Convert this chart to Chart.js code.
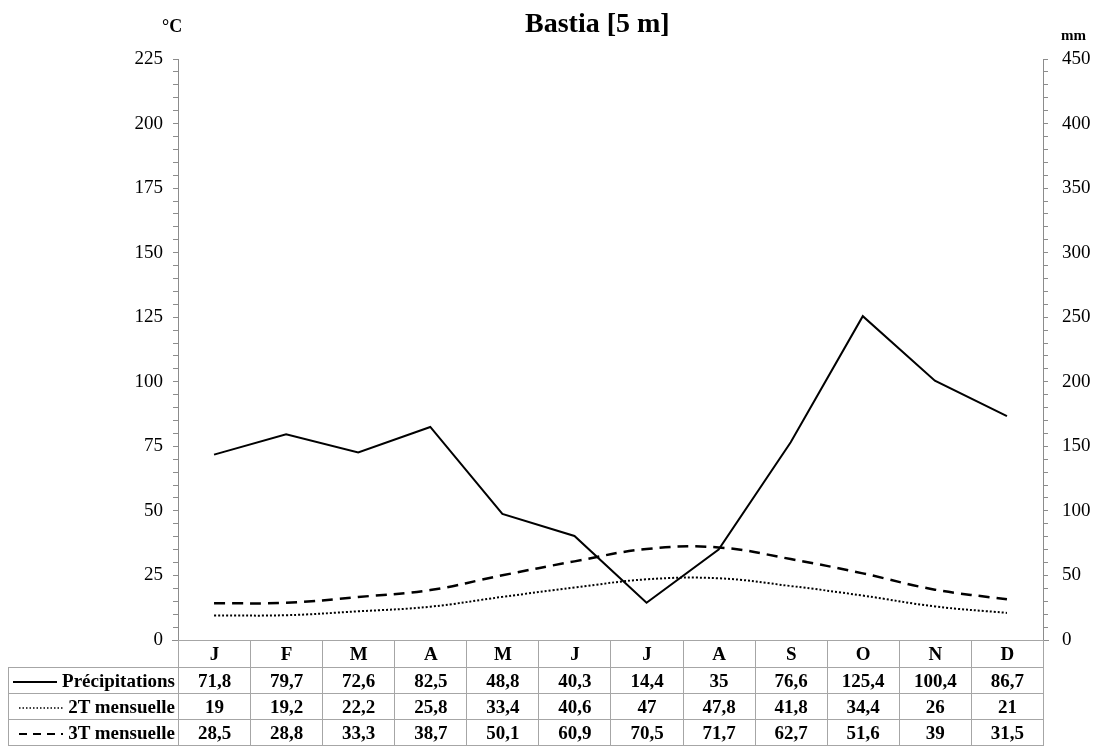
<!DOCTYPE html>
<html><head><meta charset="utf-8">
<script src="https://cdn.jsdelivr.net/npm/chart.js@4"></script>
<style>
body{margin:0;background:#fff;font-family:"Liberation Serif","Times New Roman",serif;}
#wrap{position:relative;width:1099px;height:746px;}
canvas{position:absolute;left:0;top:0;}
.t{position:absolute;font-weight:bold;color:#000;white-space:nowrap;line-height:1;}
table{position:absolute;border-collapse:collapse;font-weight:bold;font-size:19px;table-layout:fixed;}
td{border:1px solid #a6a6a6;text-align:center;padding:0;height:25px;line-height:24px;overflow:visible;white-space:nowrap;}
tr.hd td{height:26px;}
td.lab{text-align:right;padding-right:3px;}
td.blank{border:none;border-right:1px solid #a6a6a6;}
svg{vertical-align:middle;}
</style></head>
<body><div id="wrap">
<canvas id="c" width="1099" height="746"></canvas>
<div class="t" style="left:525px;top:9px;font-size:28px;">Bastia [5 m]</div>
<div class="t" style="left:162px;top:17px;font-size:18px;">°C</div>
<div class="t" style="left:1061px;top:28px;font-size:15px;">mm</div>
<table id="tb"></table>
</div>
<script>
const months = ["J","F","M","A","M","J","J","A","S","O","N","D"];
const precip = [71.8,79.7,72.6,82.5,48.8,40.3,14.4,35,76.6,125.4,100.4,86.7];
const t2 = [19,19.2,22.2,25.8,33.4,40.6,47,47.8,41.8,34.4,26,21];
const t3 = [28.5,28.8,33.3,38.7,50.1,60.9,70.5,71.7,62.7,51.6,39,31.5];
const seriesNames = ["Précipitations","2T mensuelle","3T mensuelle"];

const fmt = v => String(v).replace('.', ',');
const L = 178, R = 1043, TOP = 59, BOT = 640;
const tickFont = {family:"Liberation Serif", size:19};

new Chart(document.getElementById('c'), {
  type:'line',
  data:{labels:months, datasets:[
    {label:seriesNames[0], data:precip, yAxisID:'y', borderColor:'#000', borderWidth:2, tension:0, pointRadius:0, fill:false},
    {label:seriesNames[1], data:t2, yAxisID:'y2', borderColor:'#000', borderWidth:2, borderDash:[2,2], tension:0.4, pointRadius:0, fill:false},
    {label:seriesNames[2], data:t3, yAxisID:'y2', borderColor:'#000', borderWidth:2.5, borderDash:[11,7], tension:0.4, pointRadius:0, fill:false}
  ]},
  options:{
    responsive:false, animation:false,
    layout:{padding:{top:TOP, bottom:746-BOT, left:0, right:0}},
    plugins:{legend:{display:false}, title:{display:false}, tooltip:{enabled:false}},
    scales:{
      x:{display:false, offset:true},
      y:{position:'left', min:0, max:225,
        afterFit:s=>{s.width=L;},
        ticks:{stepSize:5, autoSkip:false, maxTicksLimit:100, color:'#000', font:tickFont, padding:10,
          callback:v=> v%25===0 ? v : ''},
        grid:{drawOnChartArea:false, drawTicks:true, tickLength:5, color:'#8c8c8c'},
        border:{color:'#8c8c8c'}},
      y2:{position:'right', min:0, max:450,
        afterFit:s=>{s.width=1099-R;},
        ticks:{stepSize:10, autoSkip:false, maxTicksLimit:100, color:'#000', font:tickFont, padding:14,
          callback:v=> v%50===0 ? v : ''},
        grid:{drawOnChartArea:false, drawTicks:true, tickLength:5, color:'#8c8c8c'},
        border:{color:'#8c8c8c'}}
    }
  },
  plugins:[{id:'baseline', afterDraw(ch){
    const c=ch.ctx, a=ch.chartArea;
    c.save(); c.strokeStyle='#8c8c8c'; c.lineWidth=1;
    c.beginPath(); c.moveTo(a.left-6, a.bottom+0.5); c.lineTo(a.right+6, a.bottom+0.5); c.stroke();
    c.restore();
  }}]
});

// data table
const tb = document.getElementById('tb');
const colW = (R - L) / 12;
tb.style.left = '8px'; tb.style.top = BOT + 'px';
tb.style.width = (R - 8) + 'px';
let cg = '<colgroup><col style="width:' + (L-8) + 'px">';
for (let i=0;i<12;i++) cg += '<col style="width:' + colW + 'px">';
cg += '</colgroup>';
const samples = [
  '<svg width="44" height="6"><line x1="0" y1="3" x2="44" y2="3" stroke="#000" stroke-width="2"/></svg>',
  '<svg width="44" height="6"><line x1="0" y1="3" x2="44" y2="3" stroke="#000" stroke-width="1.5" stroke-dasharray="1.5,2"/></svg>',
  '<svg width="44" height="6"><line x1="0" y1="3" x2="44" y2="3" stroke="#000" stroke-width="2" stroke-dasharray="8,6"/></svg>'
];
let html = cg + '<tr class="hd"><td class="blank"></td>' + months.map(m=>'<td>'+m+'</td>').join('') + '</tr>';
[precip,t2,t3].forEach((arr,i)=>{
  html += '<tr><td class="lab">' + samples[i] + ' ' + seriesNames[i] + '</td>' + arr.map(v=>'<td>'+fmt(v)+'</td>').join('') + '</tr>';
});
tb.innerHTML = html;
</script>
</body></html>
